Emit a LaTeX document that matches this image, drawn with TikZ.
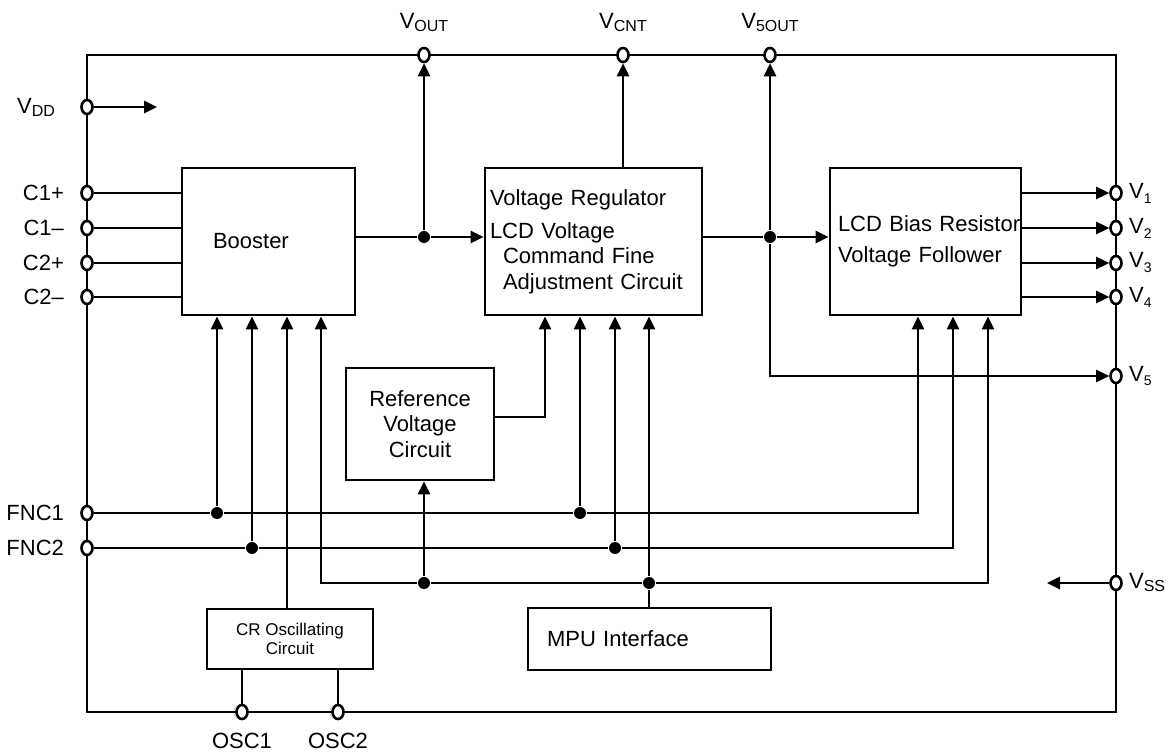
\documentclass[tikz,border=0pt]{standalone}
\usepackage{fontspec}
\setmainfont{Liberation Sans}
\usetikzlibrary{arrows.meta}
\usetikzlibrary{positioning}
\usetikzlibrary{shapes.geometric}

\newcommand{\vsub}[1]{V\raisebox{-3pt}{\fontsize{16}{16}\selectfont #1}}
\newcommand{\vnum}[1]{V\raisebox{-5pt}{\fontsize{14}{14}\selectfont #1}}

\tikzset{
  block/.style={draw, line width=2.8pt, inner sep=0pt, align=left},
  pad/.style={ellipse, draw, fill=white, line width=2.6pt, inner sep=0pt, minimum width=11pt, minimum height=14pt},
  junction/.style={circle, fill=black, inner sep=0pt, minimum size=12pt},
  lbl/.style={inner sep=0pt},
}

\begin{document}
\begin{tikzpicture}[x=1pt,y=-1pt,line width=2.6pt,>={Triangle[length=13pt,width=12pt]},font=\fontsize{22}{25.5}\selectfont]
        \useasboundingbox (0,0) rectangle (1168,754);
        % chip outline
        \coordinate (tl) at (87,55);
        \coordinate (br) at (1116,712);
        \draw (tl) rectangle (br);
        % blocks
        \node[block, minimum height=147pt, text width=111pt, inner xsep=31pt] (booster) at (268.5,241.5) {Booster};
        \node[block, minimum height=147pt, text width=207pt, inner xsep=5pt] (vr) at (593.5,241.5)
          {Voltage Regulator\\[7.5pt]LCD Voltage\\\hspace*{13pt}Command Fine\\\hspace*{13pt}Adjustment Circuit};
        \node[block, minimum height=147pt, text width=175pt, inner xsep=8pt] (lcd) at (925.5,241.5)
          {\mbox{LCD Bias Resistor}\\[5pt]Voltage Follower};
        \node[block, align=center, minimum width=148pt, minimum height=112pt] (ref) at (420,424) {Reference\\Voltage\\Circuit};
        \node[block, align=center, minimum width=166pt, minimum height=60pt, font=\fontsize{17}{19.5}\selectfont] (cr) at (290,639) {CR Oscillating\\Circuit};
        \node[block, minimum height=62pt, text width=205pt, inner xsep=19pt] (mpu) at (649.5,639) {MPU Interface};
        % pads, left side
        \node[pad] (vdd) at (87,107) {};
        \node[lbl, left=24pt of vdd] (vdd-lbl) {\vsub{DD}};
        \foreach \n/\y/\t in {c1p/193/C1+, c1m/228/C1–, c2p/263/C2+, c2m/297/C2–, fnc1/513/FNC1, fnc2/548/FNC2}
        {
          \node[pad] (\n) at (87,\y) {};
          \node[lbl, left=15pt of \n] (\n-lbl) {\t};
        }
        % pads, top
        \foreach \n/\x/\t in {vout/424/OUT, vcnt/623/CNT, vfive/770/5OUT}
        {
          \node[pad] (\n) at (\x,55) {};
          \node[lbl, above=14pt of \n] (\n-lbl) {\vsub{\t}};
        }
        % pads, right
        \foreach \n/\y/\t in {v1/193/1, v2/228/2, v3/263/3, v4/297/4, v5/376/5}
        {
          \node[pad] (\n) at (1116,\y) {};
          \node[lbl, right=5pt of \n] (\n-lbl) {\vnum{\t}};
        }
        \node[pad] (vss) at (1116,583) {};
        \node[lbl, right=5pt of vss] (vss-lbl) {\vsub{SS}};
        % pads, bottom
        \foreach \n/\x/\t in {osc1/242/OSC1, osc2/338/OSC2}
        {
          \node[pad] (\n) at (\x,712) {};
          \node[lbl, below=12pt of \n] (\n-lbl) {\t};
        }
        % junctions
        \node[junction] (j1) at (424,237) {};
        \node[junction] (j2) at (770,237) {};
        \node[junction] (f1a) at (217,513) {};
        \node[junction] (f1b) at (580,513) {};
        \node[junction] (f2a) at (252,548) {};
        \node[junction] (f2b) at (615,548) {};
        \node[junction] (c1) at (424,583) {};
        \node[junction] (c2) at (649,583) {};
        % block inputs
        \coordinate (oscin) at ([xshift=18.5pt]booster.south);
        \coordinate (busin) at ([xshift=52.5pt]booster.south);
        \coordinate (refin) at ([xshift=-48.5pt]vr.south);
        \coordinate (lin1) at ([xshift=-7.5pt]lcd.south);
        \coordinate (lin2) at ([xshift=27.5pt]lcd.south);
        \coordinate (lin3) at ([xshift=62.5pt]lcd.south);
        \coordinate (vddend) at (157,107);
        \coordinate (vssend) at (1047,583);
        % power flow
        \draw[->] (vdd) -- (vddend);
        \draw[->] (vss) -- (vssend);
        \foreach \n in {c1p,c1m,c2p,c2m}
        \draw (\n) -- (booster.west |- \n);
        \draw (booster.east |- j1) -- (j1);
        \draw[->] (j1) -- (vr.west |- j1);
        \draw[->] (j1) -- (vout);
        \draw[->] (vr.north -| vcnt) -- (vcnt);
        \draw (vr.east |- j2) -- (j2);
        \draw[->] (j2) -- (lcd.west |- j2);
        \draw[->] (j2) -- (vfive);
        \draw[->] (j2) |- (v5);
        \foreach \n in {v1,v2,v3,v4}
        \draw[->] (lcd.east |- \n) -- (\n);
        % control lines
        \draw[->] (fnc1) -- (f1a) -- (f1b) -| (lin1);
        \draw[->] (f1a) -- (f1a |- booster.south);
        \draw[->] (f1b) -- (f1b |- vr.south);
        \draw[->] (fnc2) -- (f2a) -- (f2b) -| (lin2);
        \draw[->] (f2a) -- (f2a |- booster.south);
        \draw[->] (f2b) -- (f2b |- vr.south);
        \draw[->] (c1) -| (busin);
        \draw (c1) -- (c2);
        \draw[->] (c2) -| (lin3);
        \draw[->] (c2) -- (c2 |- vr.south);
        \draw[->] (c1) -- (c1 |- ref.south);
        \draw (mpu.north -| c2) -- (c2);
        \draw[->] ([yshift=7pt]ref.east) -| (refin);
        \draw[->] (cr.north -| oscin) -- (oscin);
        \draw (cr.south -| osc1) -- (osc1);
        \draw (cr.south -| osc2) -- (osc2);
      \end{tikzpicture}
\end{document}
